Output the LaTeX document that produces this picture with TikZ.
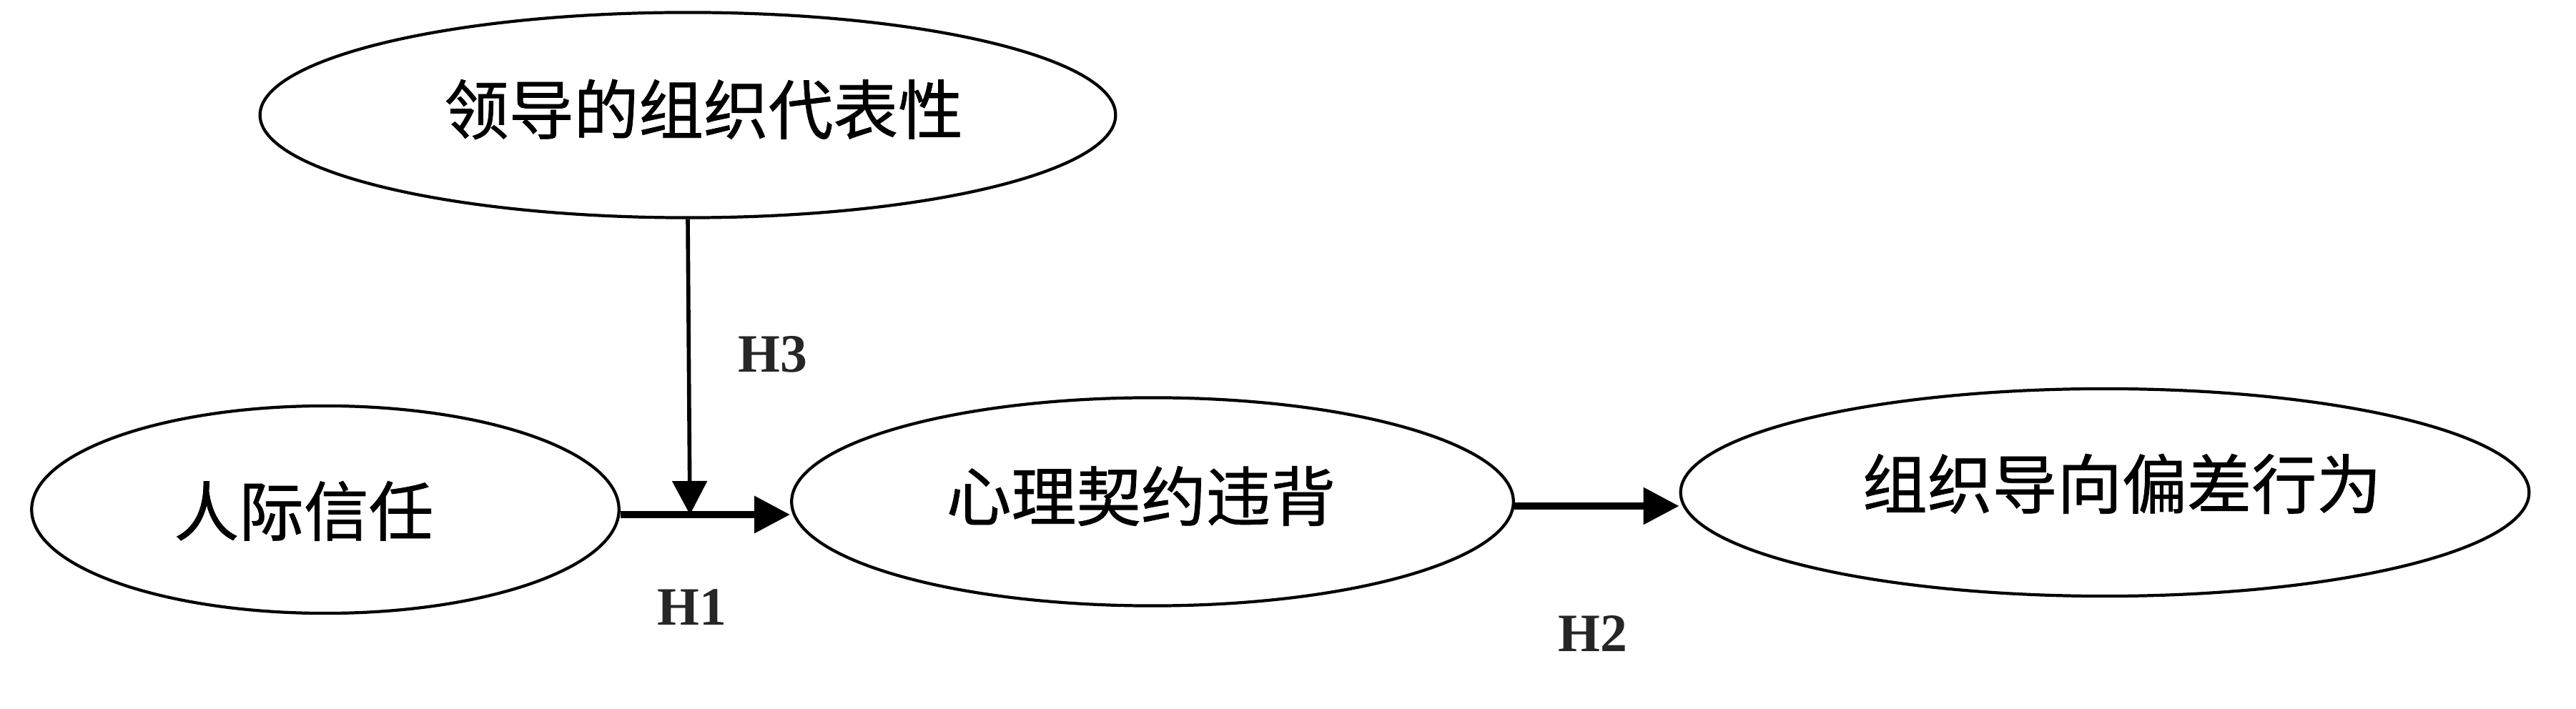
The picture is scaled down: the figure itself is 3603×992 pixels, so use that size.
\documentclass[tikz,border=0pt]{standalone}
\usepackage{fontspec}
\setmainfont{Liberation Serif}
\newfontfamily\cjk[FakeBold=0.8]{Noto Sans CJK SC}
\usetikzlibrary{shapes.geometric,arrows.meta}
\definecolor{labgray}{HTML}{262626}
\tikzset{
  oval/.style={ellipse, draw=black, line width=1.2pt, inner sep=0pt},
  cjktext/.style={font=\cjk\fontsize{25.8pt}{30pt}\selectfont, inner sep=0pt},
  hlab/.style={font=\bfseries\fontsize{21.5pt}{26pt}\selectfont, text=labgray, inner sep=0pt},
  thickarr/.style={line width=2.7pt, -{Triangle[length=0.5cm,width=0.5cm]}},
  thinarr/.style={line width=1.6pt, -{Triangle[length=0.47cm,width=0.48cm]}}
}
\begin{document}
\begin{tikzpicture}[x=0.01cm,y=-0.01cm]
\useasboundingbox[fill=white] (0,0) rectangle (3603,992);
% ellipses
\node[oval, minimum width=11.96cm, minimum height=2.87cm] (top) at (962,161) {};
\node[oval, minimum width=8.21cm, minimum height=2.9cm] (left) at (455,713) {};
\node[oval, minimum width=10.09cm, minimum height=2.91cm] (mid) at (1612,702) {};
\node[oval, minimum width=11.86cm, minimum height=2.9cm] (right) at (2944,689) {};
% texts
\node[cjktext] (toptext) at (984,153) {领导的组织代表性};
\node[cjktext] (lefttext) at (425,715) {人际信任};
\node[cjktext] (midtext) at (1596,694) {心理契约违背};
\node[cjktext] (righttext) at (2968,677) {组织导向偏差行为};
% connectors
\coordinate (j) at (965,720);
\draw[thickarr] (left.east |- j) -- (mid.west |- j);
\draw[thinarr] (top.south) -- (j);
\coordinate (h2s) at (2116,708);
\draw[thickarr] (h2s) -- (right.west |- h2s);
% labels
\node[hlab] (h1) at (968,850) {H1};
\node[hlab] (h2) at (2228,886) {H2};
\node[hlab] (h3) at (1081,496) {H3};
\end{tikzpicture}
\end{document}
